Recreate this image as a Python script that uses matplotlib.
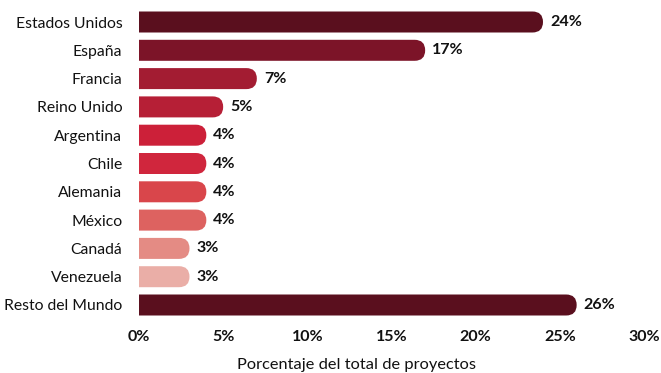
import matplotlib
matplotlib.use('Agg')
from matplotlib import pyplot as plt
from matplotlib.patches import FancyBboxPatch

# Participacion por pais
paises = ['Estados Unidos', 'España', 'Francia', 'Reino Unido', 'Argentina', 'Chile',
          'Alemania', 'México', 'Canadá', 'Venezuela', 'Resto del Mundo']
valores = [24, 17, 7, 5, 4, 4, 4, 4, 3, 3, 26]
colores = ['#5a0f1e', '#7c1428', '#a31c32', '#b61f36', '#cc2039', '#d0263d',
           '#d9464b', '#dd6260', '#e48b84', '#eaaea7', '#5a0f1e']
xticks = [0, 5, 10, 15, 20, 25, 30]

plt.rcParams['font.family'] = ['Lato', 'DejaVu Sans']
tinta = '#111111'

W, H = 661, 373
fig = plt.figure(figsize=(W / 100, H / 100), dpi=100)
ax_l, ax_r = 139, 644
row = 28.3
y_top = 22 - 0.5 * row
y_bot = 305 + 0.5 * row
ax = fig.add_axes([ax_l / W, 1 - y_bot / H, (ax_r - ax_l) / W, (y_bot - y_top) / H])

n = len(paises)
ax.set_xlim(0, 30)
ax.set_ylim(n - 0.5, -0.5)

# px -> unidades de datos, para que el extremo redondeado sea un semicirculo
x_per_px = 30 / (ax_r - ax_l)
y_per_px = 1 / row
alto = 21 * y_per_px
radio = 10.5 * x_per_px

for i, (v, c) in enumerate(zip(valores, colores)):
    barra = FancyBboxPatch((-2, i - alto / 2), v + 2, alto,
                           boxstyle=f'round,pad=0,rounding_size={radio}',
                           mutation_aspect=y_per_px / x_per_px,
                           fc=c, ec='none', clip_on=True)
    ax.add_patch(barra)
    ax.text(v + 7 * x_per_px, i, f'{v}%', va='center', ha='left',
            fontsize=11.5, fontweight='bold', color=tinta)

ax.set_yticks(range(n))
ax.set_yticklabels(paises, fontsize=11.3, color=tinta)
ax.set_xticks(xticks)
ax.set_xticklabels([f'{t}%' for t in xticks], fontsize=11.5, fontweight='bold', color=tinta)
ax.tick_params(length=0, axis='y', pad=12)
ax.tick_params(length=0, axis='x', pad=8)
for s in ax.spines.values():
    s.set_visible(False)

# titulo del eje x, algo a la izquierda del centro del eje
fig.text(356 / W, 1 - 365 / H, 'Porcentaje del total de proyectos',
         ha='center', va='center', fontsize=11.8, color=tinta)

fig.savefig('out.png', dpi=100)
